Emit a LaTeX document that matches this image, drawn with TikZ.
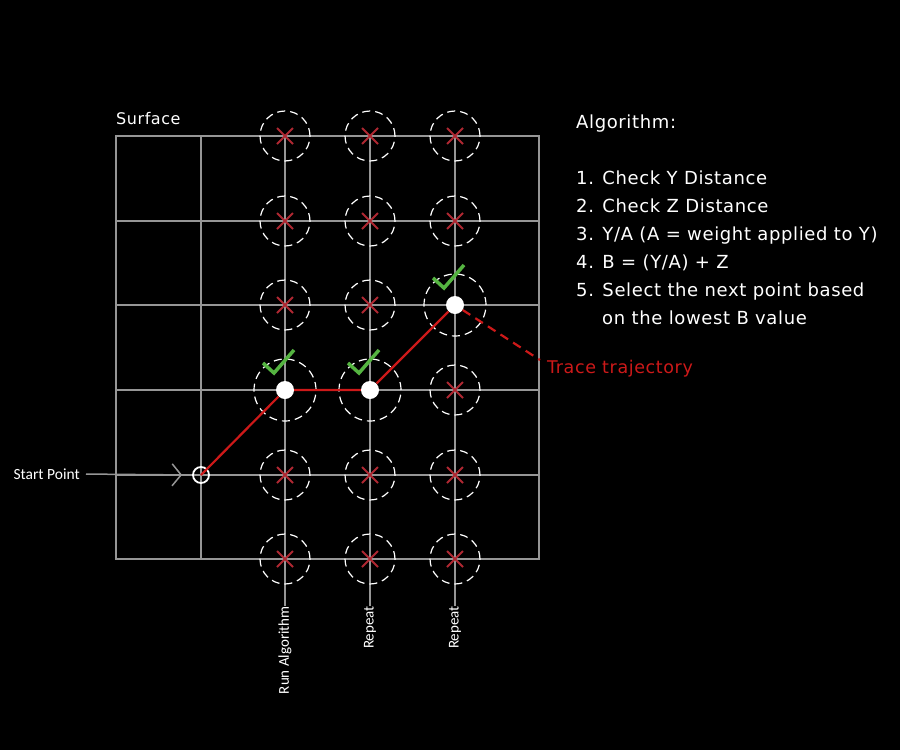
\documentclass[tikz,border=0pt]{standalone}
\usepackage{fontspec}
\setmainfont{DejaVu Sans}[LetterSpace=3.5]
\newfontfamily\labelfont{Carlito}
\usetikzlibrary{arrows.meta}
\definecolor{gridgray}{RGB}{150,150,150}
\definecolor{pathred}{RGB}{205,25,25}
\definecolor{crossred}{RGB}{175,40,50}
\definecolor{checkgreen}{RGB}{85,180,65}
\begin{document}
\begin{tikzpicture}[
  x=1pt, y=-1pt,
  gridline/.style={draw=gridgray, line width=1.5pt},
  zone/.style={circle, draw=white, dash pattern=on 8pt off 5pt, line width=1.2pt, minimum size=50pt, inner sep=0pt},
  bigzone/.style={zone, minimum size=62pt},
  dot/.style={circle, fill=white, minimum size=18pt, inner sep=0pt},
  cross/.style={draw=crossred, line width=1.8pt},
  check/.style={draw=checkgreen, line width=3.5pt},
  trace/.style={draw=pathred, line width=2.2pt},
  steplabel/.style={rotate=90, anchor=east, text=white, font=\labelfont\fontsize{15}{15}\selectfont, inner sep=0pt}
]
\fill[black] (0,0) rectangle (900,750);

% surface grid
\draw[gridline] (116,136) rectangle (539,559);
\foreach \y in {221,305,390,475} \draw[gridline] (116,\y) -- (539,\y);
\draw[gridline] (201,136) -- (201,559);

% algorithm columns
\node[steplabel] (run) at (285,606) {Run Algorithm};
\node[steplabel] (rep1) at (370,606) {Repeat};
\node[steplabel] (rep2) at (455,606) {Repeat};
\draw[gridline] (285,136) -- (run.east);
\draw[gridline] (370,136) -- (rep1.east);
\draw[gridline] (455,136) -- (rep2.east);

% rejected points
\foreach \x/\y in {285/136,370/136,455/136,285/221,370/221,455/221,285/305,370/305,
                   455/390,285/475,370/475,455/475,285/559,370/559,455/559} {
  \node[zone] at (\x,\y) {};
  \draw[cross] (\x-8,\y-8) -- (\x+8,\y+8) (\x-8,\y+8) -- (\x+8,\y-8);
}

% chosen points
\node[bigzone] at (285,390) {};
\node[bigzone] at (370,390) {};
\node[bigzone] at (455,305) {};
\node[circle, draw=white, line width=1.8pt, minimum size=16pt, inner sep=0pt] (start) at (201,475) {};
\node[dot] (c1) at (285,390) {};
\node[dot] (c2) at (370,390) {};
\node[dot] (c3) at (455,305) {};
\draw[trace] (start.center) -- (c1) -- (c2) -- (c3);
\foreach \c in {c1,c2,c3}
  \draw[check] ([shift={(-22,-27)}]\c.center) -- ([shift={(-11,-17)}]\c.center) -- ([shift={(9,-40)}]\c.center);

% texts
\node[anchor=south west, text=white, font=\fontsize{16}{16}\selectfont, inner sep=0pt] (surface) at (116,125) {Surface};
\node[anchor=east, text=white, font=\labelfont\fontsize{15.5}{15.5}\selectfont, inner sep=0pt] (startlbl) at (80,474) {Start Point};
\draw[draw=gridgray, line width=1.5pt, -{Straight Barb[length=9pt, width=22pt, line width=1.5pt]}, shorten <=6pt, shorten >=10pt] (startlbl.east) -- (start.west);

\node[anchor=west, text=pathred, font=\fontsize{17.5}{17.5}\selectfont, inner sep=0pt] (tracelbl) at (547,369) {Trace trajectory};
\draw[trace, dash pattern=on 9pt off 6pt] (c3) -- (540,360);

\node[anchor=north west, text=white, align=left, inner sep=0pt,
      font=\fontsize{18}{28}\selectfont] (algo) at (576,115) {Algorithm:\\[28pt]
1. Check Y Distance\\
2. Check Z Distance\\
3. Y/A (A = weight applied to Y)\\
4. B = (Y/A) + Z\\
5. Select the next point based\\
\hspace*{26pt}on the lowest B value};
\end{tikzpicture}
\end{document}
